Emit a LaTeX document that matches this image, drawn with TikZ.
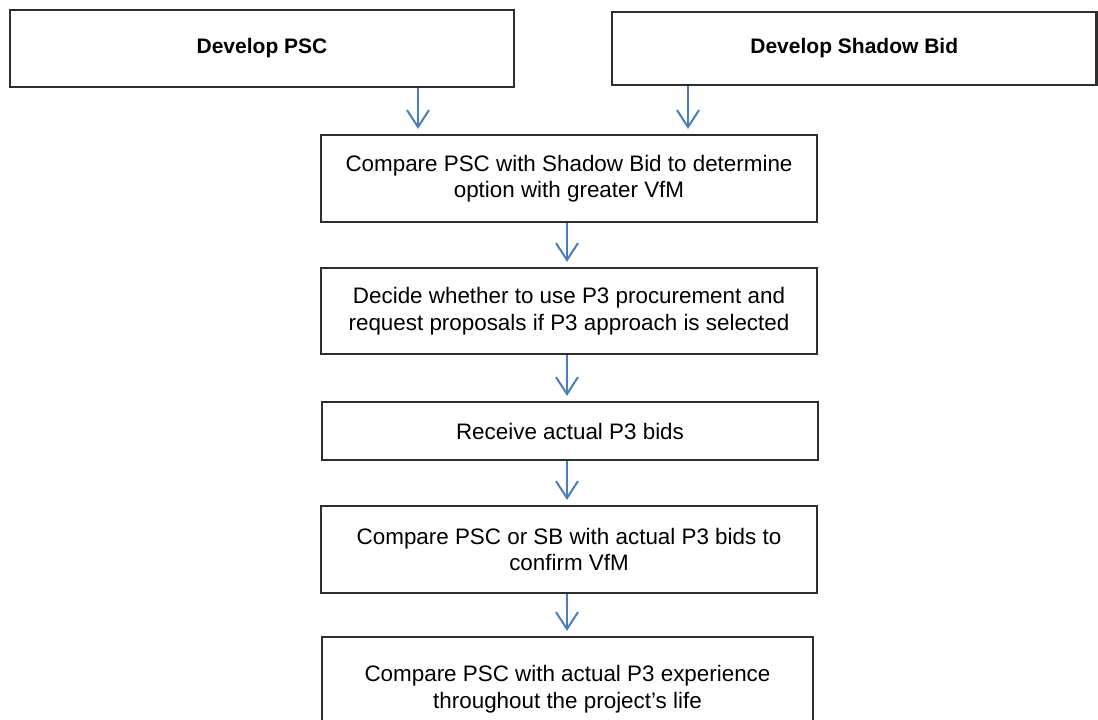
\documentclass[tikz,border=0pt]{standalone}
\usepackage{fontspec}
\setmainfont{Liberation Sans}
\usetikzlibrary{arrows.meta}
\definecolor{bordercol}{HTML}{2E2E2E}
\definecolor{arrowcol}{HTML}{4A7EBB}
\begin{document}
\begin{tikzpicture}[x=1pt,y=-1pt,
  topbox/.style={draw=bordercol, line width=2.2pt, inner sep=0pt, align=center,
    font=\fontsize{21}{25}\selectfont\bfseries},
  stepbox/.style={draw=bordercol, line width=2.2pt, inner sep=0pt, align=center,
    font=\fontsize{22.4}{26.5}\selectfont},
  arr/.style={draw=arrowcol, line width=2pt,
    -{Straight Barb[length=17pt,width=22pt,line width=2pt]}, shorten >=5pt}]
\useasboundingbox (0,0) rectangle (1098,720);
\node[topbox, minimum width=504pt, minimum height=77pt] (psc) at (262,48.5) {Develop PSC};
\node[topbox, minimum width=484.5pt, minimum height=73pt] (sb) at (854.25,48.5) {Develop Shadow Bid};
\node[stepbox, minimum width=496pt, minimum height=87pt] (cmp1) at (569,178.5)
  {Compare PSC with Shadow Bid to determine\\option with greater VfM};
\node[stepbox, minimum width=496pt, minimum height=86pt] (dec) at (569,311)
  {Decide whether to use P3 procurement and\\request proposals if P3 approach is selected};
\node[stepbox, minimum width=496pt, minimum height=58pt] (rcv) at (570,431)
  {Receive actual P3 bids};
\node[stepbox, minimum width=496pt, minimum height=87pt] (cmp2) at (569,549.5)
  {Compare PSC or SB with actual P3 bids to\\confirm VfM};
\node[stepbox, minimum width=491pt, minimum height=104pt] (cmp3) at (567.5,689)
  {Compare PSC with actual P3 experience\\throughout the project’s life};
\coordinate (a1) at (418,0);
\coordinate (a2) at (688,0);
\coordinate (am) at (567,0);
\draw[arr] (psc.south -| a1) -- (cmp1.north -| a1);
\draw[arr] (sb.south -| a2) -- (cmp1.north -| a2);
\draw[arr] (cmp1.south -| am) -- (dec.north -| am);
\draw[arr] (dec.south -| am) -- (rcv.north -| am);
\draw[arr] (rcv.south -| am) -- (cmp2.north -| am);
\draw[arr] (cmp2.south -| am) -- (cmp3.north -| am);
\end{tikzpicture}
\end{document}
